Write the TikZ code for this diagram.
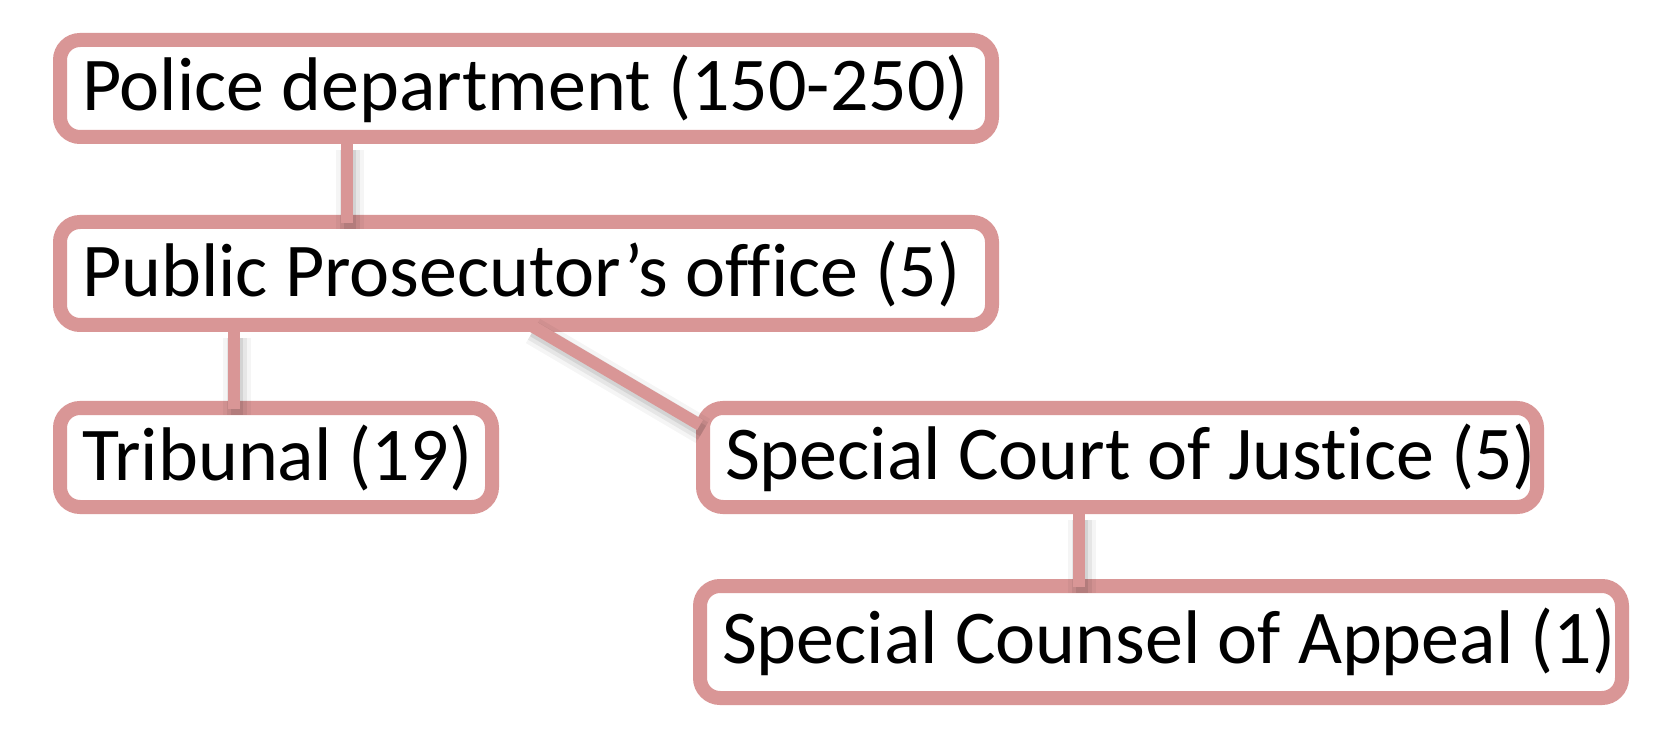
\documentclass[tikz,border=0pt]{standalone}
\usepackage{fontspec}
\setmainfont{Carlito}[Ligatures=NoCommon]
\definecolor{boxc}{RGB}{217,150,150}
\tikzset{
  box/.style={draw=boxc, line width=7pt, rounded corners=10pt, fill=white,
    inner xsep=11pt, inner ysep=0pt, text=black,
    font=\fontsize{38}{40}\selectfont},
  conn/.style={draw=boxc, line width=6pt,
    preaction={draw=black, draw opacity=0.04, line width=14pt, transform canvas={shift={(1.5pt,-3pt)}}},
    preaction={draw=black, draw opacity=0.06, line width=10pt, transform canvas={shift={(1.5pt,-3pt)}}},
    preaction={draw=black, draw opacity=0.08, line width=6pt, transform canvas={shift={(1.5pt,-3pt)}}}}
}
\begin{document}
\begin{tikzpicture}[x=0.5pt,y=-0.5pt]
\useasboundingbox[fill=white] (0,0) rectangle (1664,748);
\node[box, minimum height=48.5pt] (police) at (526,88.5) {\makebox[444pt][l]{Police department (150-250)}};
\node[box, minimum height=51.5pt] (pros) at (526,273.5) {\makebox[444pt][l]{Public Prosecutor’s office (5)}};
\node[box, minimum height=49.5pt] (trib) at (276,457.5) {\makebox[194pt][l]{Tribunal (19)}};
\node[box, minimum height=49.5pt] (court) at (1120,457.5) {\makebox[395pt][l]{Special Court of Justice (5)}};
\node[box, minimum height=56pt] (counsel) at (1161,642) {\makebox[439pt][l]{Special Counsel of Appeal (1)}};
\draw[conn, shorten >=-4pt] ([xshift=147pt]police.south west) -- ([xshift=147pt]police.south west |- pros.north);
\draw[conn, shorten >=-4pt] ([xshift=90.5pt]pros.south west) -- ([xshift=90.5pt]pros.south west |- trib.north);
\draw[conn] ([xshift=238.5pt,yshift=3.5pt]pros.south west) -- ([xshift=2pt,yshift=-12pt]court.north west);
\draw[conn, shorten >=-4pt] ([xshift=191.5pt]court.south west) -- ([xshift=191.5pt]court.south west |- counsel.north);
\end{tikzpicture}
\end{document}
